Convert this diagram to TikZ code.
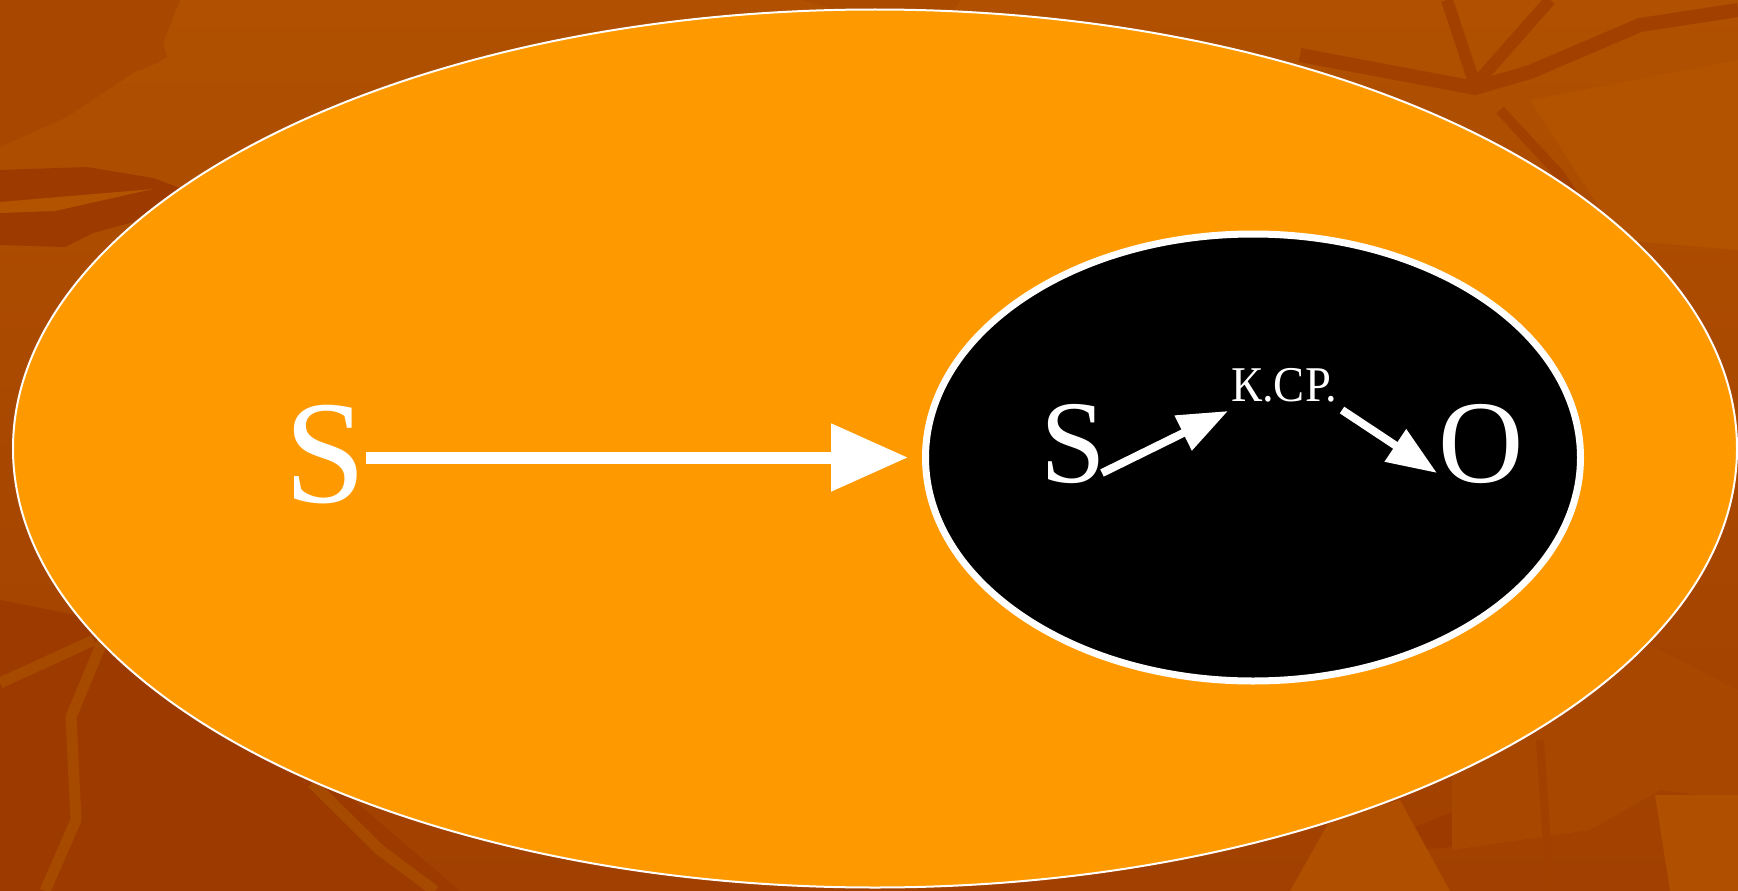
\documentclass[tikz,border=0pt]{standalone}
\usepackage{fontspec}
\setmainfont{Liberation Serif}
\usetikzlibrary{arrows.meta,shapes.geometric}
\definecolor{bgtop}{HTML}{B05000}
\definecolor{bgbot}{HTML}{A14000}
\definecolor{bgdark}{HTML}{9C3A00}
\definecolor{bgline}{HTML}{A24000}
\definecolor{bgmid}{HTML}{A84700}
\definecolor{bglight}{HTML}{B35300}
\definecolor{bgstreak}{HTML}{A64A00}
\definecolor{ringorange}{HTML}{FF9900}
\tikzset{
  lbl/.style={text=white, inner sep=0pt, anchor=base},
  bigarr/.style={draw=white, line width=12pt, -{Triangle[length=77pt,width=65pt]}},
  smallarr/.style={draw=white, line width=8pt, -{Triangle[length=50pt,width=37pt]}},
  streak/.style={line width=11pt, line join=round},
}
\begin{document}
\begin{tikzpicture}[x=1pt,y=-1pt]
\useasboundingbox (0,0) rectangle (1738,891);
\begin{scope}
\clip (0,0) rectangle (1738,891);
% background
\shade[top color=bgtop, bottom color=bgbot] (0,0) rectangle (1738,891);
% top-left texture
\fill[bgmid] (0,0) -- (180,0) -- (163,43) -- (167,57) -- (157,63) -- (133,73) -- (67,117) -- (0,147) -- cycle;
\fill[bgdark] (0,170) -- (87,167) -- (153,178) -- (180,188) -- (133,222) -- (93,233) -- (65,247) -- (0,245) -- cycle;
\fill[bglight] (0,202) -- (153,189) -- (55,211) -- (0,213) -- cycle;
% top middle
\fill[bgmid!60!bgtop] (800,0) -- (960,0) -- (950,15) -- (860,15) -- cycle;
% bottom-left texture
\fill[bgdark] (0,600) -- (200,640) -- (330,780) -- (460,891) -- (0,891) -- cycle;
\draw[bgstreak, streak] (0,683) -- (94,640);
\draw[bgstreak, streak] (103,640) -- (71,717) -- (76,820) -- (45,891);
\draw[bgstreak, streak] (312,783) -- (380,850) -- (435,891);
% top-right texture
\draw[bgline, line width=12pt] (1447,0) -- (1475,85);
\draw[bgline, line width=12pt] (1550,0) -- (1497,60) -- (1475,85);
\draw[bgline, line width=14pt] (1300,55) -- (1475,88) -- (1530,72) -- (1640,25) -- (1738,10);
\draw[bgline, line width=10pt] (1500,110) -- (1560,175) -- (1600,235);
\fill[bglight] (1530,100) -- (1738,60) -- (1738,250) -- (1620,240) -- cycle;
% bottom-right texture
\fill[bgdark] (1311,855) -- (1391,837) -- (1452,812) -- (1452,847) -- (1376,853) -- cycle;
\fill[bgmid] (1452,760) -- (1530,690) -- (1640,640) -- (1738,690) -- (1738,800) -- (1660,790) -- (1590,830) -- (1452,850) -- cycle;
\draw[bgline, line width=8pt] (1540,740) -- (1550,891);
\fill[bglight!70!bgmid] (1655,795) -- (1738,795) -- (1738,891) -- (1670,891) -- cycle;
\fill[bglight!70!bgmid] (1290,891) -- (1330,820) -- (1400,800) -- (1450,891) -- cycle;
\end{scope}
% ellipses
\node[ellipse, draw=white, line width=2pt, fill=ringorange, inner sep=0pt,
      minimum width=1724pt, minimum height=878pt] (outer) at (875,448.5) {};
\node[ellipse, draw=white, line width=7pt, fill=black, inner sep=0pt,
      minimum width=655pt, minimum height=447pt] (inner) at (1253,457.5) {};
% texts
\node[lbl, font=\fontsize{147}{150}\selectfont] (S1) at (325,502) {S};
\node[lbl, font=\fontsize{118}{120}\selectfont] (S2) at (1073,482.5) {S};
\node[lbl, font=\fontsize{118}{120}\selectfont] (O) at (1481,482.5) {O};
\node[lbl, font=\fontsize{50}{52}\selectfont, xscale=0.93] (K) at (1284,401) {К.СР.};
% arrows
\coordinate (a2s) at (1102,473);
\coordinate (a2e) at (1228,411);
\coordinate (a3s) at (1342,410);
\coordinate (a3e) at (1437,473);
\draw[bigarr] (S1.east |- inner.center) -- ([xshift=-14pt]inner.west);
\draw[smallarr] (a2s) -- (a2e);
\draw[smallarr] (a3s) -- (a3e);
\end{tikzpicture}
\end{document}
